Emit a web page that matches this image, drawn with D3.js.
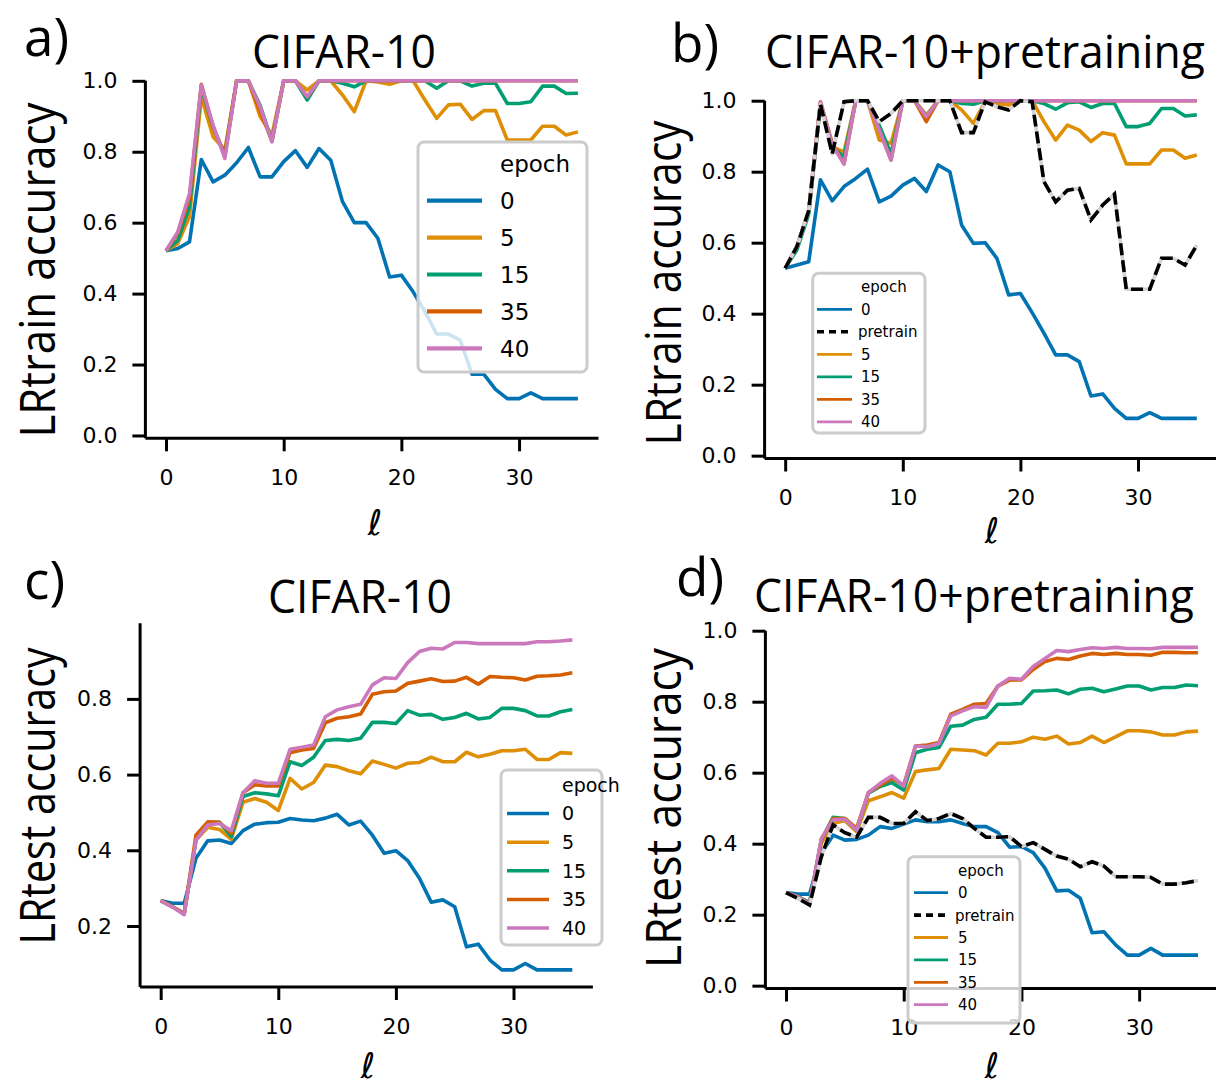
<!DOCTYPE html>
<html><head><meta charset="utf-8">
<script src="https://cdn.jsdelivr.net/npm/d3@7"></script>
<style>body{margin:0;background:#fff}svg{display:block}</style>
</head><body>
<svg id="chart" width="1216" height="1087"></svg>
<script>
// ---------------- data ----------------
const layers = d3.range(0, 36);
const epochLabels = ["0", "5", "15", "35", "40"];
const epochLabelsPre = ["0", "pretrain", "5", "15", "35", "40"];
const xTicks = [0, 10, 20, 30];
const yTicksFull = [0.0, 0.2, 0.4, 0.6, 0.8, 1.0];
const yTicksC = [0.2, 0.4, 0.6, 0.8];
const titles = ["CIFAR-10", "CIFAR-10+pretraining", "CIFAR-10", "CIFAR-10+pretraining"];
const panelLetters = ["a)", "b)", "c)", "d)"];
const yLabels = ["LRtrain accuracy", "LRtrain accuracy", "LRtest accuracy", "LRtest accuracy"];

// panel a : LR train accuracy, CIFAR-10
const trainA_e0  = [0.521,0.527,0.546,0.778,0.715,0.734,0.769,0.812,0.729,0.729,0.772,0.803,0.756,0.809,0.776,0.659,0.600,0.600,0.556,0.447,0.452,0.405,0.349,0.286,0.286,0.269,0.173,0.173,0.130,0.104,0.104,0.120,0.104,0.104,0.104,0.104];
const trainA_e5  = [0.521,0.541,0.617,0.955,0.842,0.805,1.0,1.0,0.899,0.847,1.0,1.0,0.974,1.0,1.0,0.960,0.913,1.0,0.997,0.990,1.0,1.0,0.946,0.894,0.932,0.934,0.891,0.916,0.916,0.833,0.833,0.833,0.872,0.872,0.847,0.856];
const trainA_e15 = [0.521,0.550,0.645,0.980,0.870,0.790,1.0,1.0,0.930,0.830,1.0,1.0,0.946,1.0,1.0,0.993,0.983,1.0,1.0,1.0,1.0,1.0,1.0,0.979,1.0,1.0,0.985,0.993,0.993,0.936,0.936,0.941,0.985,0.985,0.964,0.965];
const trainA_e35 = [0.521,0.570,0.670,0.990,0.870,0.790,1.0,1.0,0.915,0.830,1.0,1.0,0.955,1.0,1.0,1.0,1.0,1.0,1.0,1.0,1.0,1.0,1.0,1.0,1.0,1.0,1.0,1.0,1.0,1.0,1.0,1.0,1.0,1.0,1.0,1.0];
const trainA_e40 = [0.521,0.574,0.682,0.988,0.875,0.781,1.0,1.0,0.927,0.828,1.0,1.0,0.955,1.0,1.0,1.0,1.0,1.0,1.0,1.0,1.0,1.0,1.0,1.0,1.0,1.0,1.0,1.0,1.0,1.0,1.0,1.0,1.0,1.0,1.0,1.0];

// panel b : LR train accuracy, CIFAR-10+pretraining
const trainB_e0  = [0.528,0.537,0.546,0.777,0.718,0.758,0.781,0.807,0.715,0.731,0.762,0.781,0.744,0.819,0.800,0.650,0.598,0.600,0.556,0.453,0.457,0.403,0.345,0.284,0.284,0.265,0.168,0.174,0.133,0.105,0.105,0.121,0.105,0.105,0.105,0.105];
const trainB_pre = [0.528,0.589,0.690,0.990,0.850,0.997,1.0,1.0,0.941,0.964,1.0,1.0,1.0,1.0,1.0,0.910,0.910,0.997,0.983,0.974,1.0,0.997,0.772,0.715,0.748,0.753,0.664,0.706,0.737,0.469,0.469,0.469,0.556,0.556,0.537,0.593];
const trainB_e5  = [0.528,0.590,0.690,0.990,0.870,0.856,1.0,1.0,0.889,0.880,1.0,1.0,0.960,1.0,1.0,0.974,0.936,0.997,0.992,0.988,1.0,1.0,0.941,0.889,0.931,0.917,0.885,0.910,0.903,0.822,0.822,0.822,0.861,0.861,0.838,0.847];
const trainB_e15 = [0.528,0.580,0.680,0.990,0.870,0.842,1.0,1.0,0.930,0.850,1.0,1.0,0.955,1.0,1.0,0.992,0.990,1.0,1.0,1.0,1.0,1.0,0.992,0.976,0.994,0.997,0.981,0.992,0.992,0.927,0.927,0.936,0.978,0.978,0.957,0.960];
const trainB_e35 = [0.528,0.590,0.690,0.997,0.880,0.822,1.0,1.0,0.917,0.833,1.0,1.0,0.941,1.0,1.0,1.0,1.0,1.0,1.0,1.0,1.0,1.0,1.0,1.0,1.0,1.0,1.0,1.0,1.0,1.0,1.0,1.0,1.0,1.0,1.0,1.0];
const trainB_e40 = [0.528,0.590,0.690,0.997,0.875,0.822,1.0,1.0,0.917,0.833,1.0,1.0,0.955,1.0,1.0,1.0,1.0,1.0,1.0,1.0,1.0,1.0,1.0,1.0,1.0,1.0,1.0,1.0,1.0,1.0,1.0,1.0,1.0,1.0,1.0,1.0];

// panel c : LR test accuracy, CIFAR-10
const testC_e0  = [0.267,0.260,0.260,0.379,0.425,0.427,0.418,0.452,0.469,0.473,0.474,0.484,0.480,0.478,0.485,0.495,0.467,0.477,0.440,0.392,0.399,0.373,0.326,0.263,0.269,0.251,0.145,0.152,0.110,0.084,0.084,0.101,0.084,0.084,0.084,0.084];
const testC_e5  = [0.267,0.251,0.233,0.427,0.461,0.455,0.429,0.527,0.537,0.527,0.505,0.590,0.562,0.579,0.625,0.621,0.610,0.602,0.636,0.627,0.617,0.630,0.632,0.646,0.634,0.634,0.659,0.647,0.654,0.663,0.663,0.667,0.640,0.640,0.658,0.656];
const testC_e15 = [0.267,0.251,0.233,0.427,0.473,0.474,0.436,0.542,0.552,0.549,0.544,0.634,0.624,0.646,0.690,0.693,0.690,0.696,0.738,0.738,0.735,0.769,0.757,0.759,0.746,0.751,0.762,0.747,0.751,0.775,0.775,0.769,0.755,0.755,0.766,0.772];
const testC_e35 = [0.267,0.251,0.233,0.440,0.475,0.474,0.445,0.552,0.573,0.570,0.570,0.658,0.665,0.669,0.737,0.749,0.753,0.760,0.812,0.819,0.821,0.841,0.847,0.853,0.846,0.847,0.857,0.839,0.859,0.857,0.856,0.850,0.860,0.861,0.863,0.869];
const testC_e40 = [0.267,0.250,0.230,0.427,0.467,0.471,0.452,0.552,0.584,0.577,0.577,0.667,0.672,0.678,0.753,0.771,0.779,0.786,0.837,0.856,0.854,0.896,0.925,0.934,0.932,0.949,0.949,0.946,0.946,0.946,0.946,0.946,0.951,0.951,0.953,0.956];

// panel d : LR test accuracy, CIFAR-10+pretraining
const testD_e0  = [0.262,0.258,0.258,0.373,0.424,0.410,0.412,0.424,0.448,0.443,0.455,0.467,0.462,0.462,0.467,0.457,0.448,0.448,0.431,0.390,0.392,0.375,0.331,0.267,0.269,0.246,0.149,0.152,0.115,0.086,0.086,0.105,0.086,0.086,0.086,0.086];
const testD_pre = [0.262,0.246,0.227,0.363,0.453,0.431,0.418,0.474,0.474,0.457,0.457,0.490,0.465,0.471,0.485,0.471,0.443,0.418,0.418,0.420,0.392,0.403,0.384,0.365,0.356,0.335,0.349,0.337,0.307,0.307,0.307,0.305,0.286,0.286,0.290,0.296];
const testD_e5  = [0.262,0.251,0.234,0.401,0.457,0.465,0.434,0.521,0.532,0.544,0.528,0.603,0.608,0.612,0.666,0.664,0.662,0.650,0.683,0.683,0.687,0.700,0.694,0.703,0.681,0.685,0.703,0.685,0.701,0.718,0.718,0.715,0.706,0.706,0.715,0.717];
const testD_e15 = [0.262,0.250,0.234,0.410,0.474,0.471,0.438,0.542,0.561,0.572,0.551,0.656,0.666,0.671,0.731,0.734,0.750,0.756,0.793,0.793,0.795,0.830,0.831,0.833,0.822,0.835,0.838,0.828,0.836,0.844,0.844,0.833,0.840,0.840,0.847,0.845];
const testD_e35 = [0.262,0.250,0.230,0.410,0.471,0.471,0.443,0.544,0.565,0.584,0.565,0.675,0.678,0.685,0.765,0.778,0.793,0.795,0.844,0.861,0.861,0.891,0.913,0.922,0.919,0.929,0.936,0.933,0.936,0.933,0.933,0.931,0.939,0.939,0.938,0.938];
const testD_e40 = [0.262,0.250,0.230,0.415,0.467,0.469,0.438,0.544,0.570,0.591,0.562,0.675,0.673,0.682,0.760,0.774,0.786,0.784,0.844,0.866,0.863,0.899,0.922,0.944,0.941,0.947,0.952,0.950,0.953,0.950,0.950,0.949,0.953,0.953,0.953,0.953];

// ---------------- styling / layout ----------------
const colorOf = {"0":"#0173b2","5":"#de8f05","15":"#029e73","35":"#d55e00","40":"#cc78bc","pretrain":"#000000"};
const TICK_FONT = "'DejaVu Sans', sans-serif";
const LABEL_FONT = "'Open Sans', 'Noto Sans', sans-serif";

const panels = [
  { series: {"0":trainA_e0,"5":trainA_e5,"15":trainA_e15,"35":trainA_e35,"40":trainA_e40},
    order: ["0","5","15","35","40"], legendOrder: epochLabels,
    xr: [145.4, 598.5], yd: [-0.008, 1.0], yr: [438.3, 80.8], yticks: yTicksFull,
    leg: {box:[418,142,587,372], hx:[427,482], ty:163.8, step:36.9, tx:500, fs:23, lw:4.2},
    title: {x:252, y:68, len:184}, letter: {x:24, y:56}, ylab: {x:55, cy:270, len:335}, xlab: {x:375, y:535} },
  { series: {"0":trainB_e0,"pretrain":trainB_pre,"5":trainB_e5,"15":trainB_e15,"35":trainB_e35,"40":trainB_e40},
    order: ["0","5","15","35","40","pretrain"], legendOrder: epochLabelsPre,
    xr: [764.6, 1217.4], yd: [-0.008, 1.0], yr: [458.5, 100.7], yticks: yTicksFull,
    leg: {box:[812.7,273.3,925,433], hx:[817,852], ty:286.8, step:22.5, tx:861, fs:15, lw:2.8},
    title: {x:765, y:68, len:440}, letter: {x:671, y:62}, ylab: {x:681, cy:283, len:325}, xlab: {x:992, y:543} },
  { series: {"0":testC_e0,"5":testC_e5,"15":testC_e15,"35":testC_e35,"40":testC_e40},
    order: ["0","5","15","35","40"], legendOrder: epochLabels,
    xr: [140.1, 592.9], yd: [0.0388, 1.0], yr: [987, 623.2], yticks: yTicksC,
    leg: {box:[501,770,602,945], hx:[507,549], ty:785, step:28.6, tx:562, fs:19, lw:3.5},
    title: {x:268, y:613, len:184}, letter: {x:24, y:599}, ylab: {x:55, cy:796, len:297}, xlab: {x:368, y:1078} },
  { series: {"0":testD_e0,"pretrain":testD_pre,"5":testD_e5,"15":testD_e15,"35":testD_e35,"40":testD_e40},
    order: ["0","5","15","35","40","pretrain"], legendOrder: epochLabelsPre,
    xr: [765.4, 1218.6], yd: [-0.008, 1.0], yr: [988.5, 630.7], yticks: yTicksFull,
    leg: {box:[908,856.7,1020,1023], hx:[914,948], ty:870.3, step:22.4, tx:958, fs:15, lw:2.8},
    title: {x:754, y:612, len:440}, letter: {x:676, y:596}, ylab: {x:681, cy:808, len:320}, xlab: {x:992, y:1078} }
];

const svg = d3.select("#chart");
svg.append("rect").attr("width",1216).attr("height",1087).attr("fill","#fff");

panels.forEach((p, i) => {
  const x = d3.scaleLinear().domain([-1.75, 36.75]).range(p.xr);
  const y = d3.scaleLinear().domain(p.yd).range(p.yr);
  const g = svg.append("g");

  // lines
  const clipId = "clip" + i;
  svg.append("clipPath").attr("id", clipId).append("rect")
    .attr("x", p.xr[0]).attr("y", p.yr[1] - 6).attr("width", p.xr[1] - p.xr[0]).attr("height", p.yr[0] - p.yr[1] + 12);
  const lg = g.append("g").attr("clip-path", `url(#${clipId})`);
  const line = d3.line().x((d, k) => x(layers[k])).y(d => y(d));
  p.order.forEach(key => {
    const vals = p.series[key];
    if (key === "pretrain") {
      lg.append("path").attr("d", line(vals)).attr("fill","none")
        .attr("stroke","#d3d3d3").attr("stroke-width",3.6).attr("stroke-linejoin","round");
      lg.append("path").attr("d", line(vals)).attr("fill","none")
        .attr("stroke","#000").attr("stroke-width",3.6).attr("stroke-dasharray","12,5");
    } else {
      lg.append("path").attr("d", line(vals)).attr("fill","none")
        .attr("stroke", colorOf[key]).attr("stroke-width",3.6)
        .attr("stroke-linejoin","round").attr("stroke-linecap","butt");
    }
  });

  // axes
  const xAxis = d3.axisBottom(x).tickValues(xTicks).tickSize(13).tickPadding(18).tickFormat(d3.format("d"));
  const yAxis = d3.axisLeft(y).tickValues(p.yticks).tickSize(13).tickPadding(15).tickFormat(d3.format(".1f"));
  const gx = g.append("g").attr("transform", `translate(0,${p.yr[0]})`).call(xAxis);
  const gy = g.append("g").attr("transform", `translate(${p.xr[0]},0)`).call(yAxis);
  [gx, gy].forEach(ax => {
    ax.select(".domain").attr("stroke","#000").attr("stroke-width",3);
    ax.selectAll(".tick line").attr("stroke","#000").attr("stroke-width",3);
    ax.selectAll(".tick text").attr("font-family", TICK_FONT).attr("font-size", 22).attr("fill","#000");
  });
  gx.select(".domain").attr("d", `M${p.xr[0]},0H${p.xr[1]}`);
  gy.select(".domain").attr("d", `M0,${p.yr[0]}V${p.yr[1]}`);

  // legend
  const L = p.leg;
  const lgd = g.append("g");
  lgd.append("rect").attr("x", L.box[0]).attr("y", L.box[1])
    .attr("width", L.box[2] - L.box[0]).attr("height", L.box[3] - L.box[1])
    .attr("rx", 6).attr("fill", "#fff").attr("fill-opacity", 0.8)
    .attr("stroke", "#cccccc").attr("stroke-width", 3);
  lgd.append("text").attr("x", L.tx).attr("y", L.ty + 0.36 * L.fs).text("epoch")
    .attr("font-family", TICK_FONT).attr("font-size", L.fs);
  p.legendOrder.forEach((key, k) => {
    const cy = L.ty + (k + 1) * L.step;
    if (key === "pretrain") {
      lgd.append("line").attr("x1", L.hx[0]).attr("x2", L.hx[1]).attr("y1", cy).attr("y2", cy)
        .attr("stroke","#000").attr("stroke-width", L.lw + 0.8).attr("stroke-dasharray","7,5");
    } else {
      lgd.append("line").attr("x1", L.hx[0]).attr("x2", L.hx[1]).attr("y1", cy).attr("y2", cy)
        .attr("stroke", colorOf[key]).attr("stroke-width", L.lw);
    }
    lgd.append("text").attr("x", key === "pretrain" ? L.tx - 3 : L.tx).attr("y", cy + 0.36 * L.fs)
      .text(key).attr("font-family", TICK_FONT).attr("font-size", L.fs);
  });

  // title, letter, labels
  g.append("text").attr("x", p.title.x).attr("y", p.title.y).text(titles[i])
    .attr("font-family", LABEL_FONT).attr("font-size", 45)
    .attr("textLength", p.title.len).attr("lengthAdjust", "spacingAndGlyphs");
  g.append("text").attr("x", p.letter.x).attr("y", p.letter.y).text(panelLetters[i])
    .attr("font-family", LABEL_FONT).attr("font-size", 53);
  g.append("text").attr("transform", `translate(${p.ylab.x},${p.ylab.cy}) rotate(-90)`)
    .attr("text-anchor", "middle").text(yLabels[i])
    .attr("font-family", LABEL_FONT).attr("font-size", 50)
    .attr("textLength", p.ylab.len).attr("lengthAdjust", "spacingAndGlyphs");
  g.append("text").attr("x", p.xlab.x).attr("y", p.xlab.y).attr("text-anchor", "middle")
    .text("ℓ").attr("font-family", TICK_FONT).attr("font-style", "italic").attr("font-size", 35);
});
</script>
</body></html>
